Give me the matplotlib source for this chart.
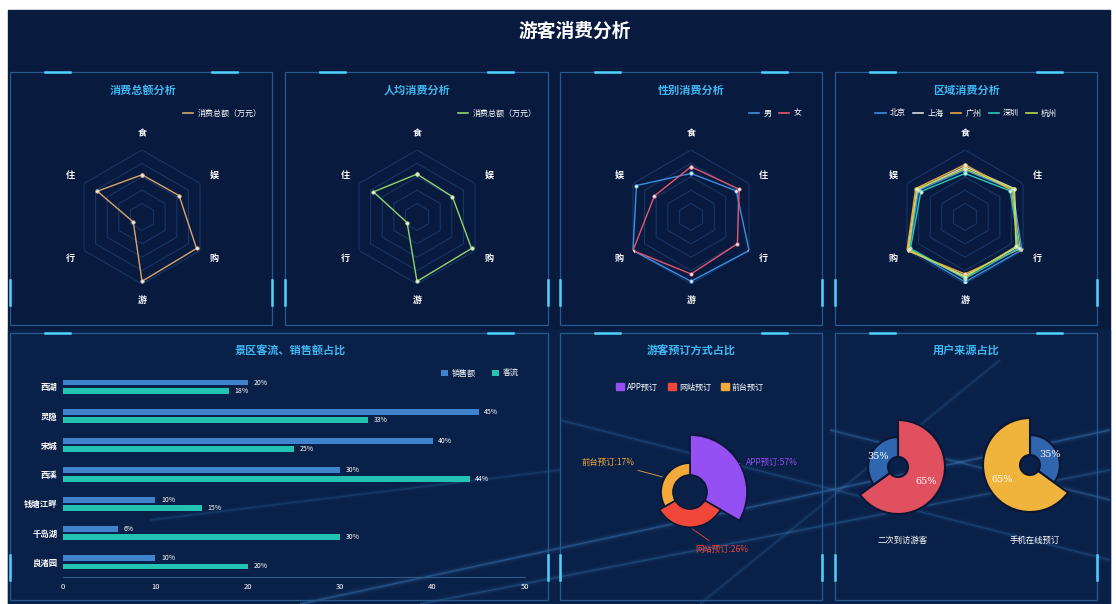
import numpy as np
import matplotlib
matplotlib.use("Agg")
import matplotlib.pyplot as plt
from matplotlib.patches import Rectangle, Patch
from matplotlib.lines import Line2D

plt.rcParams['font.family'] = ['Noto Sans CJK SC', 'DejaVu Sans']

W, H = 1116, 604

# ---- data ----
main_title = "游客消费分析"
radar_axes_ccw = ["食", "住", "行", "游", "购", "娱"]
radar_axes_cw = ["食", "住", "行", "游", "购", "娱"]

total_values = [63, 77, 15, 96, 94, 64]
percap_values = [64, 75, 17, 96, 94, 61]

gender_names = ["男", "女"]
male_values = [65, 78, 100, 96, 100, 94]
female_values = [75, 83, 80, 85, 100, 63]

city_names = ["北京", "上海", "广州", "深圳", "杭州"]
beijing = [70, 82, 98, 97, 96, 80]
shanghai = [75, 85, 90, 88, 99, 82]
guangzhou = [78, 80, 95, 85, 100, 85]
shenzhen = [65, 78, 93, 92, 94, 76]
hangzhou = [72, 84, 88, 90, 97, 83]

spots = ["西湖", "灵隐", "宋城", "西溪", "钱塘江畔", "千岛湖", "良渚园"]
sales_pct = [20, 45, 40, 30, 10, 6, 10]
flow_pct = [18, 33, 25, 44, 15, 30, 20]
bar_ticks = [0, 10, 20, 30, 40, 50]

book_names = ["APP预订", "网站预订", "前台预订"]
book_pct = [57, 26, 17]

source_left = [65, 35]
source_right = [35, 65]
source_captions = ["二次到访游客", "手机在线预订"]

fig = plt.figure(figsize=(W / 100, H / 100), dpi=100)
fig.patch.set_facecolor("white")


def box(x, y, w, h):
    return [x / W, 1 - (y + h) / H, w / W, h / H]


# ---- background and panel frames ----
bg = fig.add_axes([0, 0, 1, 1])
bg.set_xlim(0, W)
bg.set_ylim(H, 0)
bg.axis("off")
bg.add_patch(Rectangle((8, 10), 1102, 594, color="#081a3e", zorder=0))
bg.add_patch(Rectangle((8, 330), 1102, 274, color="#0b2550", alpha=0.6, zorder=0))
# soft light beams
for (x0, y0, x1, y1, a) in [(300, 604, 1110, 430, 0.25), (420, 604, 1110, 470, 0.18),
                            (560, 420, 1110, 560, 0.15), (700, 604, 1000, 360, 0.12),
                            (150, 520, 560, 470, 0.12), (830, 430, 1110, 500, 0.22)]:
    for lw, k in [(6, 0.15), (3, 0.35), (1, 1.0)]:
        bg.plot([x0, x1], [y0, y1], color="#5fb8ff", lw=lw, alpha=a * k, zorder=1,
                solid_capstyle="butt")

panels = [(10, 72, 262, 253), (285, 72, 263, 253), (560, 72, 262, 253), (835, 72, 262, 253),
          (10, 333, 538, 267), (560, 333, 262, 267), (835, 333, 262, 267)]
for (x, y, w, h) in panels:
    bg.add_patch(Rectangle((x, y), w, h, fill=False, ec="#275b8f", lw=0.9, zorder=2))
    bg.plot([x + 35, x + 60], [y, y], color="#4fd3ff", lw=1.8, zorder=3)
    bg.plot([x + w - 60, x + w - 35], [y, y], color="#4fd3ff", lw=1.8, zorder=3)
    bg.plot([x, x], [y + h - 45, y + h - 20], color="#4fd3ff", lw=1.8, zorder=3)
    bg.plot([x + w, x + w], [y + h - 45, y + h - 20], color="#4fd3ff", lw=1.8, zorder=3)

bg.text(575, 31, main_title, color="white", fontsize=13.5, fontweight="bold",
        ha="center", va="center")

title_c = "#3fb8f2"
for (tx, ty, t) in [(143, 90, "消费总额分析"), (417, 90, "人均消费分析"),
                    (691, 90, "性别消费分析"), (966, 90, "区域消费分析"),
                    (290, 351, "景区客流、销售额占比"), (691, 351, "游客预订方式占比"),
                    (966, 351, "用户来源占比")]:
    bg.text(tx, ty, t, color=title_c, fontsize=8, fontweight="bold", ha="center", va="center")


# ---- radar charts ----
def radar(cx, cy, labels, series, colors, names, clockwise, legend_xy, ncol):
    R = 67
    ax = fig.add_axes(box(cx - R, cy - R, 2 * R, 2 * R), projection="polar")
    ax.set_theta_offset(np.pi / 2)
    ax.set_theta_direction(-1 if clockwise else 1)
    ax.set_ylim(0, 100)
    ax.set_facecolor("none")
    ax.grid(False)
    ax.spines["polar"].set_visible(False)
    ax.set_xticks([])
    ax.set_yticks([])
    ang = np.linspace(0, 2 * np.pi, len(labels), endpoint=False)
    ang_c = np.append(ang, ang[0])
    for r in [20, 40, 60, 80, 100]:
        ax.plot(ang_c, [r] * len(ang_c), color="#173766", lw=0.8)
    handles = []
    for vals, c, n in zip(series, colors, names):
        v = np.append(vals, vals[0])
        ax.plot(ang_c, v, color=c, lw=1.0, marker="o", ms=2.6, mfc="#e8e8e8", mec=c, mew=0.4)
        handles.append(Line2D([0], [0], color=c, lw=1.2, label=n))
    for a, lab in zip(ang, labels):
        ax.text(a, 124, lab, color="white", fontsize=6.5, fontweight="bold",
                ha="center", va="center")
    ax.legend(handles=handles, loc="center", bbox_to_anchor=(legend_xy[0] / W, 1 - legend_xy[1] / H),
              bbox_transform=fig.transFigure, frameon=False, labelcolor="white", fontsize=5.8,
              handlelength=1.3, ncol=ncol, columnspacing=0.9, handletextpad=0.5)
    return ax


radar(142, 217, radar_axes_ccw, [total_values], ["#d9a46c"], ["消费总额（万元）"],
      False, (222, 113), 1)
radar(417, 217, radar_axes_ccw, [percap_values], ["#93d36d"], ["消费总额（万元）"],
      False, (497, 113), 1)
radar(691, 217, radar_axes_cw, [male_values, female_values], ["#3a8fe3", "#e3566e"],
      gender_names, True, (775, 113), 2)
radar(965, 217, radar_axes_cw, [beijing, shanghai, guangzhou, shenzhen, hangzhou],
      ["#3a8fe3", "#d9d9d9", "#f0a63a", "#27c9b8", "#b9d84a"], city_names, True, (966, 113), 5)

# ---- horizontal bar chart ----
bx = fig.add_axes(box(63, 372, 462, 205))
bx.set_facecolor("none")
y = np.arange(len(spots))
blue_c, teal_c = "#3f83cc", "#23c2b3"
b1 = bx.barh(y - 0.14, sales_pct, height=0.2, color=blue_c, label="销售额")
b2 = bx.barh(y + 0.14, flow_pct, height=0.2, color=teal_c, label="客流")
for bars, vals in [(b1, sales_pct), (b2, flow_pct)]:
    for rect, v in zip(bars, vals):
        bx.text(v + 0.6, rect.get_y() + rect.get_height() / 2, f"{v}%", color="white",
                fontsize=5, va="center", ha="left")
bx.set_xlim(0, 50)
bx.set_ylim(len(spots) - 0.5, -0.5)
bx.set_xticks(bar_ticks)
bx.set_xticklabels([str(t) for t in bar_ticks], color="white", fontsize=5.5)
bx.set_yticks(y)
bx.set_yticklabels(spots, color="white", fontsize=6, fontweight="bold")
bx.tick_params(length=0, pad=4)
for s in ["top", "right", "left"]:
    bx.spines[s].set_visible(False)
bx.spines["bottom"].set_color("#2c5a8c")
bx.legend(loc="center", bbox_to_anchor=(480 / W, 1 - 373 / H), bbox_transform=fig.transFigure,
          frameon=False, labelcolor="white", fontsize=5.8, ncol=2, handlelength=0.8,
          handleheight=0.8, columnspacing=2.0, handletextpad=0.5)

# ---- booking rose donut ----
book_colors = ["#9450f2", "#f0473a", "#f3aa3a"]
Rd = 60
dx = fig.add_axes(box(690 - Rd, 492 - Rd, 2 * Rd, 2 * Rd), projection="polar")
dx.set_theta_offset(np.pi / 2)
dx.set_theta_direction(-1)
dx.set_ylim(0, Rd)
dx.axis("off")
inner, span = 17, 40
nb = len(book_pct)
width = 2 * np.pi / nb
centers = np.arange(nb) * width + width / 2
radii = [span * v / max(book_pct) for v in book_pct]
dx.bar(centers, radii, width=width, bottom=inner, color=book_colors,
       edgecolor="#0a1633", linewidth=1.2)
label_pos = [(np.deg2rad(62), 63), (np.deg2rad(151), 66), (np.deg2rad(298), 63)]
label_ha = ["left", "center", "right"]
for c, r, col, n, v, (lt, lr), ha in zip(centers, radii, book_colors, book_names, book_pct,
                                         label_pos, label_ha):
    dx.annotate(f"{n}:{v}%", xy=(c, inner + r), xytext=(lt, lr), color=col, fontsize=6,
                ha=ha, va="center", annotation_clip=False,
                arrowprops=dict(arrowstyle="-", color=col, lw=0.6))
dx.legend(handles=[Patch(color=c, label=n) for c, n in zip(book_colors, book_names)],
          loc="center", bbox_to_anchor=(690 / W, 1 - 387 / H), bbox_transform=fig.transFigure,
          frameon=False, labelcolor="white", fontsize=5.8, ncol=3, handlelength=1.0,
          handleheight=1.0, columnspacing=1.2, handletextpad=0.4)


# ---- source pies ----
def source_pie(cx, cy, vals, colors, caption):
    Rp = 50
    ax = fig.add_axes(box(cx - Rp, cy - Rp, 2 * Rp, 2 * Rp), projection="polar")
    ax.set_theta_offset(np.pi / 2)
    ax.set_theta_direction(-1)
    ax.set_ylim(0, Rp)
    ax.axis("off")
    hole, sp = 10, 37
    fr = np.array(vals) / sum(vals)
    widths = fr * 2 * np.pi
    starts = np.concatenate([[0], np.cumsum(widths)[:-1]])
    radii = [sp * v / max(vals) for v in vals]
    ax.bar(starts, radii, width=widths, bottom=hole, align="edge", color=colors,
           edgecolor="#0a1633", linewidth=1.5)
    for s, w, r, v in zip(starts, widths, radii, vals):
        ax.text(s + w / 2, hole + r / 2 + 3, f"{v}%", color="white", fontsize=7,
                family="DejaVu Serif", ha="center", va="center")
    bg.text(cx + 5, 540, caption, color="white", fontsize=6, ha="center", va="center")


source_pie(898, 467, source_left, ["#e0505f", "#2f66ad"], source_captions[0])
source_pie(1030, 465, source_right, ["#2f66ad", "#f0b43c"], source_captions[1])

fig.savefig("out.png", dpi=100, facecolor=fig.get_facecolor())
